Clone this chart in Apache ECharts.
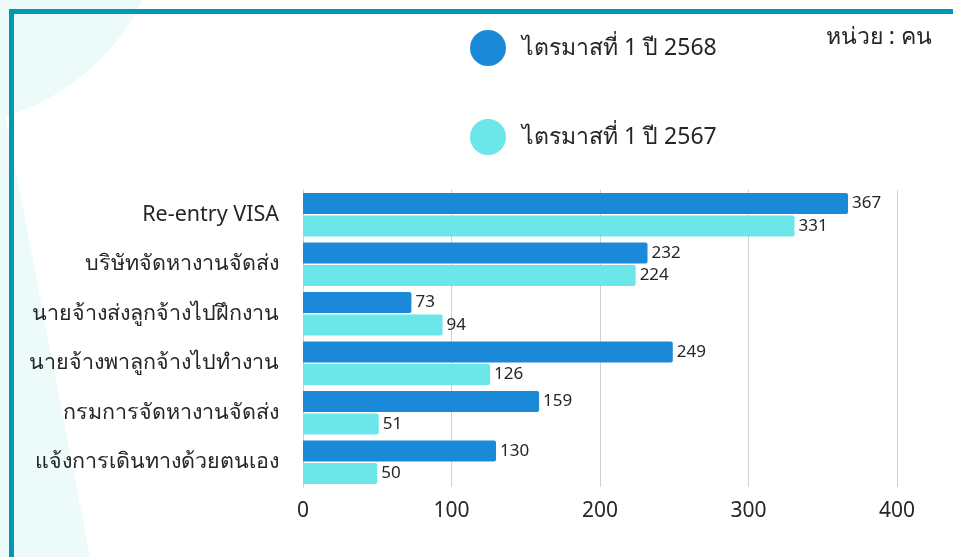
<!DOCTYPE html>
<html>
<head>
<meta charset="utf-8">
<script src="https://cdn.jsdelivr.net/npm/echarts@6/dist/echarts.min.js"></script>
<style>
  html, body {margin: 0; padding: 0; background: #fff;}
  #chart {width: 953px; height: 557px;}
</style>
</head>
<body>
<div id="chart"></div>
<script>
// categories top to bottom as in the picture
const categories = [
  "Re-entry VISA",
  "บริษัทจัดหางานจัดส่ง",
  "นายจ้างส่งลูกจ้างไปฝึกงาน",
  "นายจ้างพาลูกจ้างไปทำงาน",
  "กรมการจัดหางานจัดส่ง",
  "แจ้งการเดินทางด้วยตนเอง",
]
const seriesNames = ["ไตรมาสที่ 1 ปี 2568", "ไตรมาสที่ 1 ปี 2567"]
const values2568 = [367, 232, 73, 249, 159, 130]
const values2567 = [331, 224, 94, 126, 51, 50]
const xTicks = [0, 100, 200, 300, 400]
const unitText = "หน่วย : คน"

const FONT = "'Noto Sans', 'Noto Sans CJK SC', sans-serif"
const TEXT = "#262626"
const DARK = "#1a8ad8"
const CYAN = "#6be6e9"
const MINT = "#edfafa"
const FRAME = "#0099b5"

const chart = echarts.init(document.getElementById("chart"), null, {renderer: "canvas"})

function barSeries(name, data, color) {
  return {
    name,
    type: "bar",
    data,
    barWidth: 21,
    barGap: "8%",
    itemStyle: {color, borderRadius: [0, 2, 2, 0]},
    label: {
      show: true,
      position: "right",
      distance: 4,
      color: TEXT,
      fontFamily: FONT,
      fontSize: 17,
    },
  }
}

chart.setOption({
  backgroundColor: "#fff",
  animation: false,
  textStyle: {fontFamily: FONT},
  graphic: [
    // soft decorative shapes behind the frame
    {type: "circle", z: -10, shape: {cx: -60, cy: -100, r: 226}, style: {fill: MINT}},
    {type: "polygon", z: -10, shape: {points: [[0, 0], [4, 110], [90, 557], [0, 557]]}, style: {fill: MINT}},
    // frame lines top and left
    {type: "rect", z: 10, shape: {x: 9, y: 9, width: 944, height: 5}, style: {fill: FRAME}},
    {type: "rect", z: 10, shape: {x: 9, y: 9, width: 5, height: 548}, style: {fill: FRAME}},
    {
      type: "text", right: 21, top: 26,
      style: {text: unitText, fill: TEXT, fontFamily: FONT, fontSize: 23},
    },
  ],
  legend: {
    orient: "vertical",
    left: 465,
    top: 25,
    icon: "circle",
    itemWidth: 36,
    itemHeight: 36,
    itemGap: 53,
    textStyle: {color: TEXT, fontFamily: FONT, fontSize: 23, padding: [0, 0, 0, 11]},
    data: seriesNames,
  },
  grid: {left: 303, right: 56, top: 190, bottom: 70, containLabel: false},
  xAxis: {
    type: "value",
    min: xTicks[0],
    max: xTicks[xTicks.length - 1],
    interval: 100,
    axisLabel: {color: TEXT, fontFamily: FONT, fontSize: 21, margin: 14},
    axisLine: {show: false},
    axisTick: {show: false},
    splitLine: {lineStyle: {color: "#d0d0d0", width: 1}},
  },
  yAxis: {
    type: "category",
    inverse: true,
    data: categories,
    axisLabel: {color: TEXT, fontFamily: FONT, fontSize: 21.5, margin: 24},
    axisLine: {show: true, lineStyle: {color: "#d0d0d0"}},
    axisTick: {show: false},
  },
  series: [
    barSeries(seriesNames[0], values2568, DARK),
    barSeries(seriesNames[1], values2567, CYAN),
  ],
})
</script>
</body>
</html>
